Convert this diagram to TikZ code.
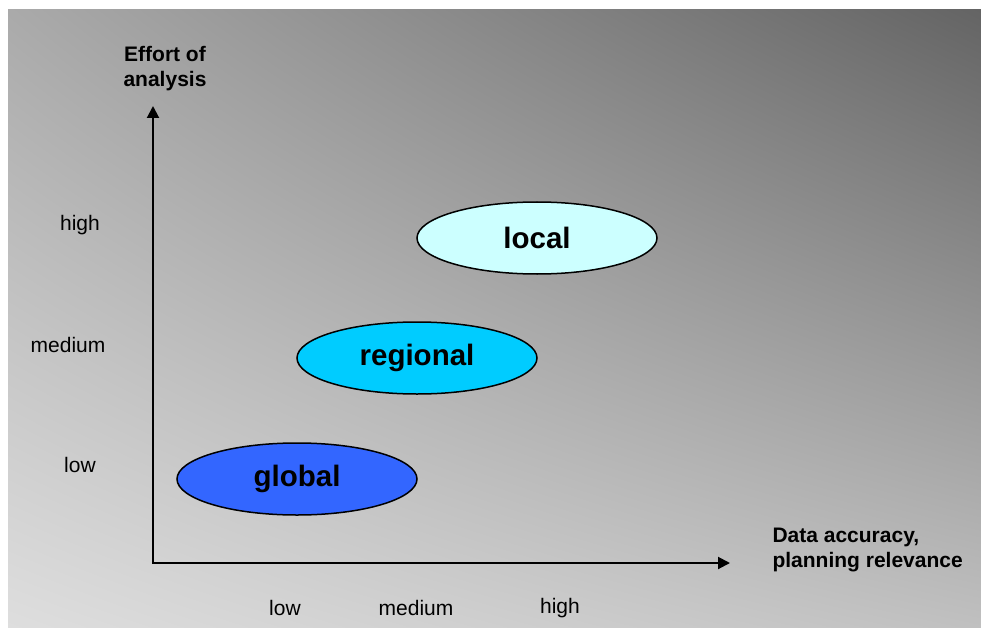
\documentclass[tikz,border=0pt]{standalone}
\usepackage{fontspec}
\setmainfont{Liberation Sans}
\usetikzlibrary{arrows.meta,positioning,shapes.geometric,shadings}
\definecolor{globalblue}{HTML}{3366FF}
\definecolor{regionalblue}{HTML}{00CCFF}
\definecolor{localblue}{HTML}{CCFFFF}
\definecolor{bgul}{HTML}{AAAAAA}
\definecolor{bgur}{HTML}{646464}
\definecolor{bgll}{HTML}{DEDEDE}
\definecolor{bglr}{HTML}{C0C0C0}
\tikzset{>={Triangle[length=12pt,width=12pt]},
         axis/.style={line width=2pt,->},
         level/.style={font=\fontsize{21}{25}\selectfont},
         axistitle/.style={font=\fontsize{21}{25}\selectfont\bfseries},
         scalebox/.style={ellipse,draw=black,line width=1.5pt,
                          minimum width=240pt,minimum height=72pt,inner sep=0pt,
                          font=\fontsize{29.5}{32}\selectfont\bfseries}}

\begin{document}
\begin{tikzpicture}[x=1pt,y=-1pt]

	\useasboundingbox (0,0) rectangle (981,628);
	\shade[upper left=bgul, upper right=bgur, lower left=bgll, lower right=bglr]
		(8,628) rectangle (981,10);

	% axes
	\coordinate (origin) at (153,563);
	\coordinate (ytop) at (153,106);
	\coordinate (xend) at (730,563);
	\draw[axis] (origin) -- (ytop);
	\draw[axis] ([xshift=-1pt]origin) -- (xend);

	\node[axistitle, align=center] (ytitle) at (165,69) {Effort of\\analysis};
	\node[axistitle, align=left, anchor=west] (xtitle) at (769,550) {Data accuracy,\\planning relevance};

	% levels on both axes
	\node[level] (ylow) at (80,465) {low};
	\node[level] (ymed) at (68,345) {medium};
	\node[level] (yhigh) at (80,225) {high};
	\node[level] (xlow) at (285,608) {low};
	\node[level] (xmed) at (416,608) {medium};
	\node[level] (xhigh) at (560,608) {high};

	% scales
	\node[scalebox, fill=globalblue] (global) at (297,479) {global};
	\node[scalebox, fill=regionalblue] (regional) at (417,358) {regional};
	\node[scalebox, fill=localblue] (local) at (537,238) {local};

\end{tikzpicture}
\end{document}
